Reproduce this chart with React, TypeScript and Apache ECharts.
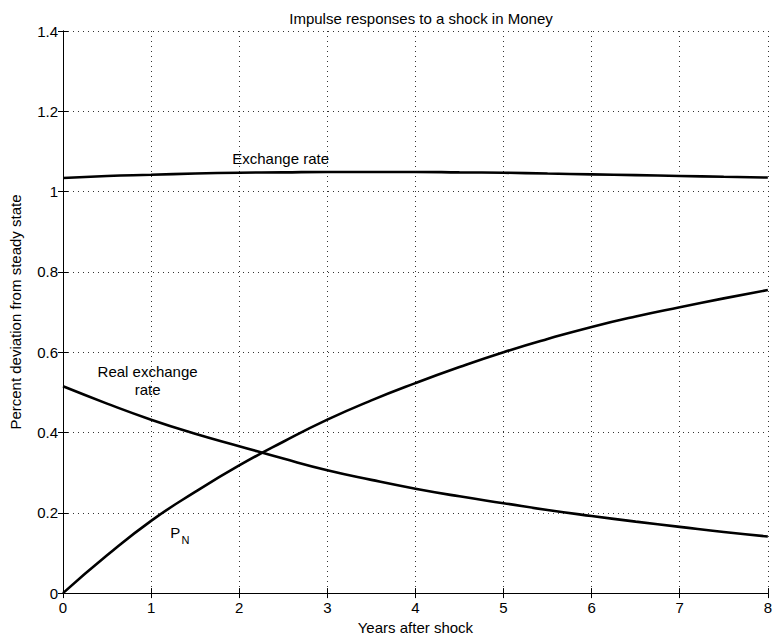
import React, { useEffect, useRef } from "react";
import * as echarts from "echarts";

const years = [0, 0.5, 1, 1.5, 2, 2.5, 3, 3.5, 4, 4.5, 5, 5.5, 6, 6.5, 7, 7.5, 8];
const exchangeRate = [1.034, 1.039, 1.042, 1.045, 1.047, 1.048, 1.049, 1.049, 1.049, 1.048, 1.047, 1.045, 1.043, 1.041, 1.039, 1.037, 1.035];
const priceN = [0, 0.094, 0.18, 0.252, 0.318, 0.377, 0.432, 0.48, 0.523, 0.563, 0.6, 0.633, 0.663, 0.689, 0.712, 0.734, 0.755];
const realExchangeRate = [0.515, 0.472, 0.432, 0.397, 0.366, 0.335, 0.306, 0.282, 0.26, 0.241, 0.224, 0.207, 0.192, 0.178, 0.165, 0.152, 0.141];

const FONT = "Liberation Sans, Arial, Helvetica, sans-serif";
const FS = 15;

export default function App() {
  const ref = useRef<HTMLDivElement>(null);
  useEffect(() => {
    if (!ref.current) return;
    const chart = echarts.init(ref.current, null, { renderer: "svg" });
    const pairs = (ys: number[]) => years.map((t, i) => [t, ys[i]]);
    const lineStyle = { color: "#000", width: 2.6 };
    const gridLine = { show: true, lineStyle: { color: "#333", width: 1, type: [1, 4] as any } };
    const tickIn = { show: true, inside: true, length: 5, lineStyle: { color: "#000" } };
    const txt = (s: string, size: number) => ({
      show: true,
      formatter: s,
      color: "#000",
      fontFamily: FONT,
      fontSize: size,
      align: "center",
      lineHeight: 18,
    });
    const mp = (data: any[]) => ({
      symbol: "circle",
      symbolSize: 0,
      itemStyle: { color: "#000" },
      label: { color: "#000" },
      data,
    });
    chart.setOption({
      animation: false,
      backgroundColor: "#fff",
      color: ["#000", "#000", "#000"],
      textStyle: { fontFamily: FONT, color: "#000" },
      title: {
        text: "Impulse responses to a shock in Money",
        left: 416,
        textAlign: "center",
        top: 6,
        textStyle: { fontFamily: FONT, fontSize: FS, fontWeight: "normal", color: "#000" },
      },
      grid: { left: 58, right: 2, top: 31, bottom: 46, containLabel: false },
      xAxis: [
        {
          type: "value",
          min: 0,
          max: 8,
          interval: 1,
          name: "Years after shock",
          nameLocation: "middle",
          nameGap: 26,
          nameTextStyle: { fontFamily: FONT, fontSize: FS, color: "#000" },
          axisLine: { show: true, lineStyle: { color: "#000", width: 1 } },
          axisTick: tickIn,
          axisLabel: { fontFamily: FONT, fontSize: FS, color: "#000", margin: 7 },
          splitLine: gridLine,
        },
        {
          type: "value",
          position: "top",
          min: 0,
          max: 8,
          interval: 1,
          axisLine: { show: true, lineStyle: { color: "#000", width: 1 } },
          axisTick: tickIn,
          axisLabel: { show: false },
          splitLine: { show: false },
        },
      ],
      yAxis: [
        {
          type: "value",
          min: 0,
          max: 1.4,
          interval: 0.2,
          name: "Percent deviation from steady state",
          nameLocation: "middle",
          nameGap: 40,
          nameTextStyle: { fontFamily: FONT, fontSize: FS, color: "#000" },
          axisLine: { show: true, lineStyle: { color: "#000", width: 1 } },
          axisTick: tickIn,
          axisLabel: {
            fontFamily: FONT,
            fontSize: FS,
            color: "#000",
            margin: 5,
            formatter: (v: number) => String(Math.round(v * 10) / 10),
          },
          splitLine: gridLine,
        },
        {
          type: "value",
          position: "right",
          min: 0,
          max: 1.4,
          interval: 0.2,
          axisLine: { show: true, lineStyle: { color: "#000", width: 1 } },
          axisTick: tickIn,
          axisLabel: { show: false },
          splitLine: { show: false },
        },
      ],
      series: [
        {
          name: "Exchange rate",
          type: "line",
          data: pairs(exchangeRate),
          smooth: true,
          showSymbol: false,
          lineStyle,
          markPoint: mp([{ coord: [2.47, 1.083], label: txt("Exchange rate", FS) }]),
        },
        {
          name: "PN",
          type: "line",
          data: pairs(priceN),
          smooth: true,
          showSymbol: false,
          lineStyle,
          markPoint: mp([
            { coord: [1.275, 0.152], label: txt("P", FS) },
            { coord: [1.39, 0.133], label: txt("N", 11) },
          ]),
        },
        {
          name: "Real exchange rate",
          type: "line",
          data: pairs(realExchangeRate),
          smooth: true,
          showSymbol: false,
          lineStyle,
          markPoint: mp([{ coord: [0.96, 0.53], label: txt("Real exchange\nrate", FS) }]),
        },
      ],
    });
    return () => chart.dispose();
  }, []);
  return (
    <div
      ref={ref}
      style={{ position: "absolute", left: 0, top: 0, width: 775, height: 640 }}
    />
  );
}
